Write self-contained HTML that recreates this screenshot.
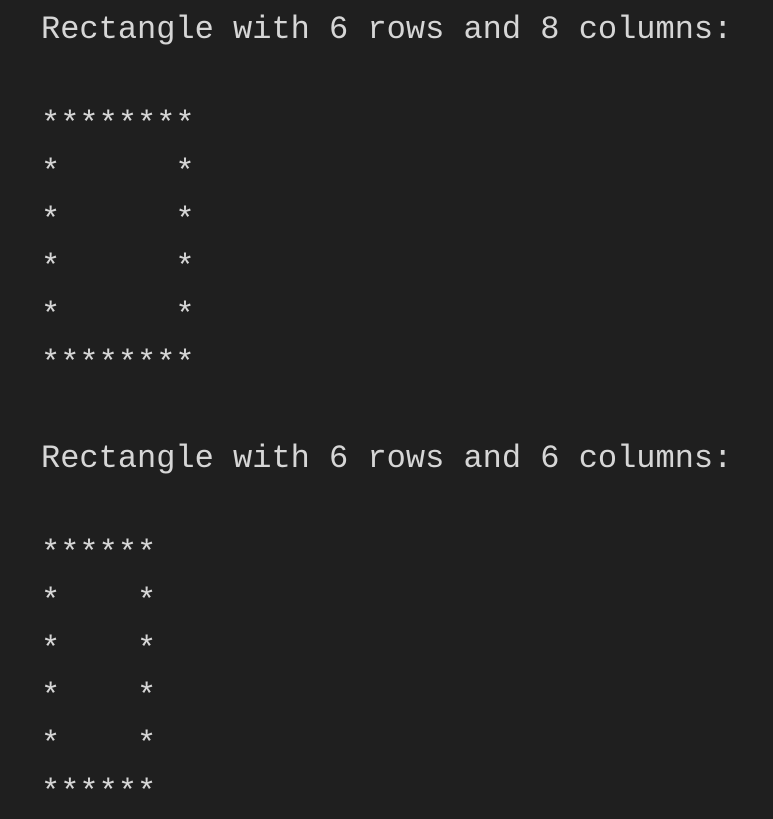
<!DOCTYPE html>
<html><head><meta charset="utf-8"><style>
html,body{margin:0;padding:0;background:#1f1f1f;width:773px;height:819px;overflow:hidden}
pre{margin:0;padding:6px 0 0 41px;font-family:"Liberation Mono",monospace;font-size:32px;line-height:47.65px;color:#d6d6d6;white-space:pre}
</style></head><body><pre>Rectangle with 6 rows and 8 columns:

********
*      *
*      *
*      *
*      *
********

Rectangle with 6 rows and 6 columns:

******
*    *
*    *
*    *
*    *
******</pre></body></html>
